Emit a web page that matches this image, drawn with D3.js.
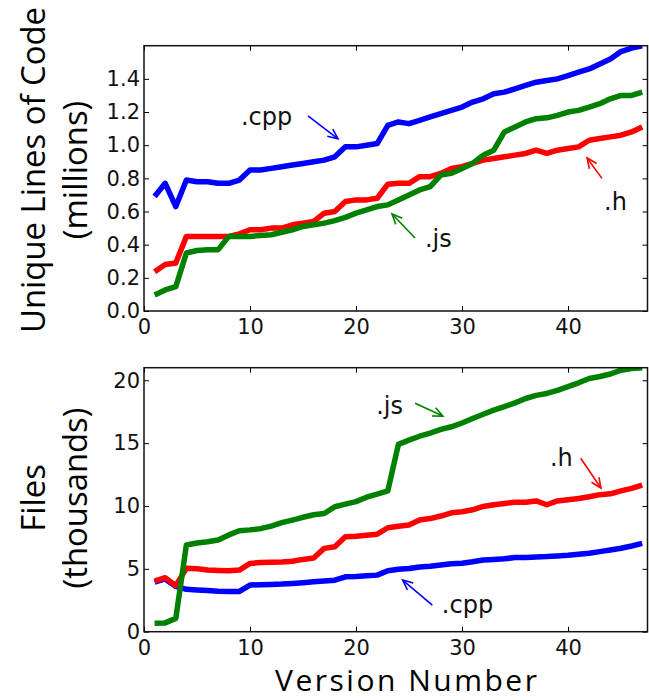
<!DOCTYPE html>
<html><head><meta charset="utf-8">
<script src="https://cdn.jsdelivr.net/npm/d3@7"></script>
<style>body{margin:0;background:#fff;} svg{display:block;}</style>
</head><body>
<svg id="chart" width="649" height="700"></svg>
<script>
// ---- data ----
const versions = d3.range(1, 48);
const xTicks = [0, 10, 20, 30, 40];
const topTicks = [0, 0.2, 0.4, 0.6, 0.8, 1.0, 1.2, 1.4];
const bottomTicks = [0, 5, 10, 15, 20];
const seriesNames = [".cpp", ".h", ".js"];

const linesCpp = [0.69,0.77,0.63,0.79,0.78,0.78,0.77,0.77,0.79,0.85,
  0.85,0.86,0.87,0.88,0.89,0.90,0.91,0.93,0.99,0.99,
  1.00,1.01,1.12,1.14,1.13,1.15,1.17,1.19,1.21,1.23,
  1.26,1.28,1.31,1.32,1.34,1.36,1.38,1.39,1.40,1.42,
  1.44,1.46,1.49,1.52,1.565,1.585,1.60];
const linesH = [0.237,0.28,0.29,0.45,0.45,0.45,0.45,0.45,0.465,0.49,
  0.49,0.50,0.50,0.52,0.53,0.54,0.59,0.60,0.66,0.67,
  0.67,0.68,0.765,0.77,0.77,0.81,0.81,0.83,0.86,0.87,
  0.89,0.91,0.92,0.93,0.94,0.95,0.97,0.95,0.97,0.98,
  0.99,1.03,1.04,1.05,1.06,1.08,1.11];
const linesJs = [0.097,0.127,0.147,0.35,0.365,0.37,0.37,0.45,0.45,0.45,
  0.455,0.46,0.475,0.49,0.51,0.52,0.53,0.545,0.565,0.59,
  0.61,0.63,0.64,0.67,0.70,0.73,0.75,0.82,0.83,0.86,
  0.89,0.94,0.97,1.08,1.11,1.14,1.16,1.165,1.18,1.20,
  1.21,1.23,1.25,1.28,1.30,1.30,1.32];

const filesCpp = [3.95,4.2,3.6,3.37,3.32,3.27,3.22,3.2,3.2,3.71,
  3.74,3.76,3.79,3.84,3.9,3.97,4.03,4.1,4.37,4.4,
  4.45,4.5,4.85,4.96,5.02,5.15,5.2,5.3,5.4,5.45,
  5.56,5.7,5.75,5.8,5.9,5.9,5.95,5.98,6.03,6.08,
  6.16,6.24,6.37,6.5,6.64,6.82,7.02];
const filesH = [4.03,4.3,3.66,5.04,5.0,4.9,4.87,4.85,4.9,5.43,
  5.5,5.53,5.55,5.6,5.75,5.86,6.63,6.76,7.55,7.6,
  7.68,7.76,8.27,8.38,8.48,8.88,9.0,9.2,9.46,9.54,
  9.7,9.96,10.1,10.2,10.3,10.3,10.4,10.1,10.4,10.5,
  10.6,10.73,10.9,10.97,11.2,11.4,11.66];
const filesJs = [0.67,0.7,1.06,6.9,7.05,7.15,7.3,7.7,8.03,8.1,
  8.2,8.4,8.67,8.88,9.1,9.3,9.4,9.94,10.15,10.35,
  10.7,10.95,11.2,14.9,15.24,15.55,15.8,16.09,16.3,16.6,
  16.96,17.3,17.62,17.9,18.2,18.55,18.8,18.95,19.2,19.5,
  19.8,20.14,20.3,20.5,20.8,20.93,21.0];

// annotations in data coordinates: label, text anchor, arrow tail, arrow tip
const topNotes = [
  {s: 0, text: ".cpp", tx: 9.15, ty: 1.12, ax: 15.47, ay: 1.177, bx: 18.3, by: 1.038},
  {s: 2, text: ".js",  tx: 26.5, ty: 0.386, ax: 25.57, ay: 0.44, bx: 23.4, by: 0.585},
  {s: 1, text: ".h",   tx: 43.4, ty: 0.61, ax: 43.2, ay: 0.80, bx: 41.8, by: 0.923}
];
const bottomNotes = [
  {s: 2, text: ".js",  tx: 21.9, ty: 17.3, ax: 25.57, ay: 18.18, bx: 28.2, by: 17.15},
  {s: 1, text: ".h",   tx: 38.3, ty: 13.17, ax: 41.2, ay: 13.8, bx: 43.1, by: 11.43},
  {s: 0, text: ".cpp", tx: 28.1, ty: 1.49, ax: 27.2, ay: 2.12, bx: 24.4, by: 4.11}
];

// ---- styles ----
const colorOf = ["#0000ff", "#ff0000", "#008000"]; // by series index cpp,h,js
const tickFont = "DejaVu Sans";
const labelFont = "'Open Sans', sans-serif";

const svg = d3.select("#chart");
const x = d3.scaleLinear().domain([0, 47.5]).range([144, 647.5]);

const panels = [
  {y: d3.scaleLinear().domain([0, 1.6]).range([311, 45.7]), ticks: topTicks, fmt: d3.format(".1f"),
   series: [linesCpp, linesH, linesJs], notes: topNotes, label: ["Unique Lines of Code", "(millions)"], labelCenter: 170},
  {y: d3.scaleLinear().domain([0, 21]).range([631.7, 367.7]), ticks: bottomTicks, fmt: d3.format("d"),
   series: [filesCpp, filesH, filesJs], notes: bottomNotes, label: ["Files", "(thousands)"], labelCenter: 498}
];

// label font sizing: fit texts to their widths in the reference
function fitSize(txt, target) {
  const probe = svg.append("text").attr("font-family", labelFont).attr("font-size", 32).text(txt);
  const w = probe.node().getComputedTextLength();
  probe.remove();
  return 32 * target / w;
}
const yLabelSize = fitSize("Unique Lines of Code", 326);

panels.forEach((p, i) => {
  const g = svg.append("g");
  const [x0, x1] = x.range();
  const [yb, yt] = p.y.range();
  const clipId = "clip" + i;
  svg.append("clipPath").attr("id", clipId).append("rect")
    .attr("x", x0).attr("y", yt).attr("width", x1 - x0).attr("height", yb - yt);

  // lines: cpp, h, js (js on top)
  const line = d3.line().x((d, j) => x(versions[j])).y(d => p.y(d));
  p.series.forEach((vals, s) => {
    g.append("path").attr("d", line(vals)).attr("fill", "none")
      .attr("stroke", colorOf[s]).attr("stroke-width", 5.5)
      .attr("stroke-linejoin", "round").attr("stroke-linecap", "butt")
      .attr("clip-path", `url(#${clipId})`);
  });

  // axes (ticks inward on all sides)
  const ax = g.append("g").attr("transform", `translate(0,${yb})`)
    .call(d3.axisBottom(x).tickValues(xTicks).tickSize(-5).tickPadding(8).tickFormat(d3.format("d")));
  const axT = g.append("g").attr("transform", `translate(0,${yt})`)
    .call(d3.axisTop(x).tickValues(xTicks).tickSize(-5).tickFormat(""));
  const ay = g.append("g").attr("transform", `translate(${x0},0)`)
    .call(d3.axisLeft(p.y).tickValues(p.ticks).tickSize(-5).tickPadding(4).tickFormat(p.fmt));
  const ayR = g.append("g").attr("transform", `translate(${x1},0)`)
    .call(d3.axisRight(p.y).tickValues(p.ticks).tickSize(-5).tickFormat(""));
  [ax, axT, ay, ayR].forEach(a => {
    a.select(".domain").remove();
    a.selectAll(".tick line").attr("stroke", "#000").attr("stroke-width", 1);
    a.selectAll(".tick text").attr("font-family", tickFont).attr("font-size", 21).attr("fill", "#111");
  });
  // frame
  g.append("rect").attr("x", x0).attr("y", yt).attr("width", x1 - x0).attr("height", yb - yt)
    .attr("fill", "none").attr("stroke", "#111").attr("stroke-width", 1.5);

  // annotations
  p.notes.forEach(n => {
    const c = colorOf[n.s];
    g.append("text").attr("x", x(n.tx)).attr("y", p.y(n.ty))
      .attr("font-family", tickFont).attr("font-size", 24).attr("fill", "#111").text(n.text);
    const X1 = x(n.ax), Y1 = p.y(n.ay), X2 = x(n.bx), Y2 = p.y(n.by);
    g.append("line").attr("x1", X1).attr("y1", Y1).attr("x2", X2).attr("y2", Y2)
      .attr("stroke", c).attr("stroke-width", 1.6);
    const ang = Math.atan2(Y1 - Y2, X1 - X2), L = 11, spread = 0.42;
    const head = [[X2 + L * Math.cos(ang + spread), Y2 + L * Math.sin(ang + spread)], [X2, Y2],
                  [X2 + L * Math.cos(ang - spread), Y2 + L * Math.sin(ang - spread)]];
    g.append("path").attr("d", d3.line()(head)).attr("fill", "none")
      .attr("stroke", c).attr("stroke-width", 1.6);
  });

  // y label (two lines, rotated)
  const lab = g.append("text").attr("transform", `translate(0,${p.labelCenter}) rotate(-90)`)
    .attr("text-anchor", "middle").attr("font-family", labelFont).attr("font-size", yLabelSize).attr("fill", "#000");
  lab.append("tspan").attr("x", 0).attr("y", 45).text(p.label[0]);
  lab.append("tspan").attr("x", 0).attr("y", 87).text(p.label[1]);
});

svg.append("text").attr("x", 406).attr("y", 691).attr("text-anchor", "middle")
  .attr("font-family", labelFont).attr("font-size", 30)
  .attr("textLength", 262).attr("lengthAdjust", "spacing")
  .attr("fill", "#000").text("Version Number");
</script>
</body></html>
